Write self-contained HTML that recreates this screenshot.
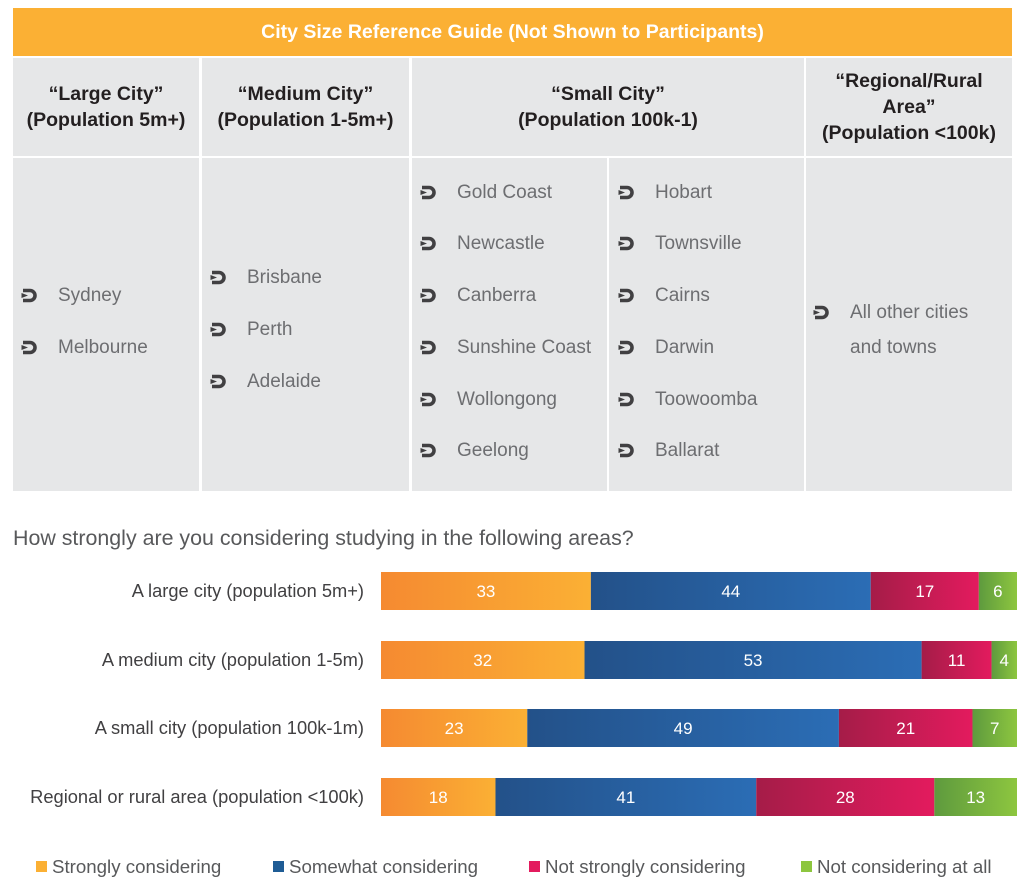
<!DOCTYPE html>
<html><head><meta charset="utf-8">
<style>
*{margin:0;padding:0;box-sizing:border-box}
body{width:1032px;height:892px;background:#fff;position:relative;font-family:"Liberation Sans",sans-serif;overflow:hidden}
.abs{position:absolute}
.cell{position:absolute;background:#e6e7e8}
.hd{display:flex;align-items:center;justify-content:center;text-align:center;font-weight:bold;font-size:19.5px;color:#231f20;line-height:26px}
.item{position:absolute;font-size:19px;color:#6d6e71;white-space:nowrap;height:24px;line-height:24px}
.item svg{position:absolute;left:0;top:4px}
.item span{position:absolute;left:38px}
.lbl{position:absolute;right:668px;font-size:18.3px;color:#414042;white-space:nowrap}
.leg{position:absolute;top:856px;font-size:18.7px;color:#58595b;white-space:nowrap}
.leg i{display:inline-block;width:11px;height:11px;margin-right:5px;vertical-align:1px}
</style></head><body>
<div class="abs hd" style="left:13px;top:8px;width:999px;height:48px;background:#fbb034;color:#fff;font-size:19.5px">City Size Reference Guide (Not Shown to Participants)</div>

<div class="cell hd" style="left:13px;top:58px;width:186px;height:98px">“Large City”<br>(Population 5m+)</div>
<div class="cell hd" style="left:202px;top:58px;width:207px;height:98px">“Medium City”<br>(Population 1-5m+)</div>
<div class="cell hd" style="left:412px;top:58px;width:392px;height:98px">“Small City”<br>(Population 100k-1)</div>
<div class="cell hd" style="left:806px;top:58px;width:206px;height:98px">“Regional/Rural<br>Area”<br>(Population &lt;100k)</div>

<div class="cell" style="left:13px;top:158px;width:186px;height:333px"></div>
<div class="cell" style="left:202px;top:158px;width:207px;height:333px"></div>
<div class="cell" style="left:412px;top:158px;width:195px;height:333px"></div>
<div class="cell" style="left:609px;top:158px;width:195px;height:333px"></div>
<div class="cell" style="left:806px;top:158px;width:206px;height:333px"></div>

<div id="items"></div>

<div class="abs" style="left:13px;top:526px;font-size:21.4px;color:#58595b;white-space:nowrap">How strongly are you considering studying in the following areas?</div>

<svg id="chart" class="abs" style="left:0;top:0" width="1032" height="892">
<defs>
<linearGradient id="g0"><stop offset="0" stop-color="#f58a31"/><stop offset="1" stop-color="#fbb034"/></linearGradient>
<linearGradient id="g1"><stop offset="0" stop-color="#235189"/><stop offset="1" stop-color="#2b6db5"/></linearGradient>
<linearGradient id="g2"><stop offset="0" stop-color="#a51c48"/><stop offset="1" stop-color="#e31b5e"/></linearGradient>
<linearGradient id="g3"><stop offset="0" stop-color="#5e9a3e"/><stop offset="1" stop-color="#8dc63f"/></linearGradient>
</defs>
</svg>
<div id="labels"></div>

<div class="leg" style="left:36px"><i style="background:#fbb034"></i>Strongly considering</div>
<div class="leg" style="left:273px"><i style="background:#1f5c95"></i>Somewhat considering</div>
<div class="leg" style="left:529px"><i style="background:#e31b5e"></i>Not strongly considering</div>
<div class="leg" style="left:801px"><i style="background:#8dc63f"></i>Not considering at all</div>

<script>
const categories=["A large city (population 5m+)","A medium city (population 1-5m)","A small city (population 100k-1m)","Regional or rural area (population <100k)"];
const strongly=[33,32,23,18];
const somewhat=[44,53,49,41];
const notStrongly=[17,11,21,28];
const notAtAll=[6,4,7,13];
const seriesNames=["strongly","somewhat","not-strongly","not-at-all"];

const X0=381,X1=1017,rowTop=[572,641,709,778],barH=38;
const xs=v=>v*(X1-X0)/100;
const svg=document.getElementById('chart');
const NS='http://www.w3.org/2000/svg';
const labels=document.getElementById('labels');
const series=[strongly,somewhat,notStrongly,notAtAll];
categories.forEach((c,i)=>{
  const l=document.createElement('div');
  l.className='lbl';
  l.style.top=(rowTop[i]+8)+'px';
  l.textContent=c;
  
  
  labels.appendChild(l);
  let x=X0;
  series.forEach((s,j)=>{
    const w=xs(s[i]);
    const r=document.createElementNS(NS,'rect');
    r.setAttribute('x',x);r.setAttribute('y',rowTop[i]);r.setAttribute('width',w);r.setAttribute('height',barH);
    r.setAttribute('fill','url(#g'+j+')');
    
    
    svg.appendChild(r);
    const t=document.createElementNS(NS,'text');
    t.setAttribute('x',x+w/2);t.setAttribute('y',rowTop[i]+barH/2+6);
    t.setAttribute('text-anchor','middle');t.setAttribute('fill','#fff');
    t.setAttribute('font-size','17');t.setAttribute('font-family','Liberation Sans, sans-serif');
    t.textContent=s[i];
    
    
    svg.appendChild(t);
    x+=w;
  });
});

const items=[
 [20,296,"Sydney"],[20,348,"Melbourne"],
 [209,278,"Brisbane"],[209,330,"Perth"],[209,382,"Adelaide"],
 [419,193,"Gold Coast"],[419,244,"Newcastle"],[419,296,"Canberra"],[419,348,"Sunshine Coast"],[419,400,"Wollongong"],[419,451,"Geelong"],
 [617,193,"Hobart"],[617,244,"Townsville"],[617,296,"Cairns"],[617,348,"Darwin"],[617,400,"Toowoomba"],[617,451,"Ballarat"],
 [812,313,"All other cities"],[850,348,null,"and towns"]
];
const cont=document.getElementById('items');
items.forEach(it=>{
  const d=document.createElement('div');
  d.className='item';
  d.style.left=it[0]+'px';d.style.top=(it[1]-12)+'px';
  if(it[2]){
    d.innerHTML='<svg width="17" height="15" viewBox="0 0 17 15"><path d="M3 2.5 H10 A5 5 0 0 1 10 12.5 H3" fill="none" stroke="#414042" stroke-width="3.6"/><path d="M1.5 5 L8 7.5 L1.5 10Z" fill="#414042"/></svg><span></span>';
    d.querySelector('span').textContent=it[2];
  } else {
    d.innerHTML='<span style="left:0"></span>';
    d.querySelector('span').textContent=it[3];
  }
  
  
  cont.appendChild(d);
});
</script>
</body></html>
